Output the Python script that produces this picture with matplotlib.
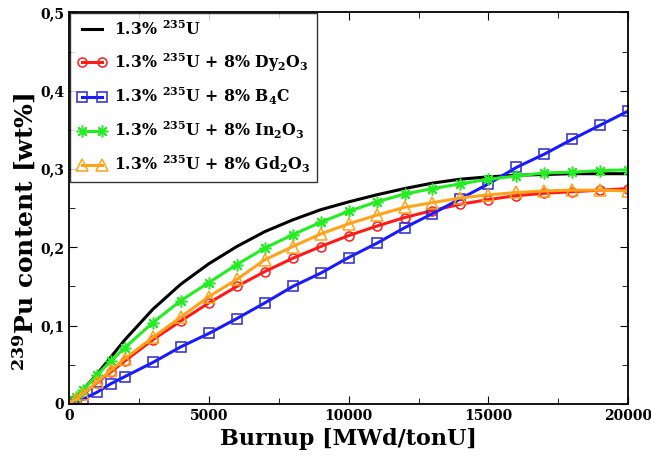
import matplotlib
matplotlib.use("Agg")
import matplotlib.pyplot as plt
from matplotlib.ticker import MultipleLocator, FuncFormatter

plt.rcParams['font.family'] = 'DejaVu Serif'
plt.rcParams['font.weight'] = 'bold'
plt.rcParams['mathtext.fontset'] = 'dejavuserif'
plt.rcParams['mathtext.default'] = 'bf'

# burnup points (MWd/tonU)
burnup = [0, 250, 500, 1000, 1500, 2000, 3000, 4000, 5000, 6000, 7000, 8000, 9000,
          10000, 11000, 12000, 13000, 14000, 15000, 16000, 17000, 18000, 19000, 20000]

# reference fuel, drawn as a plain line
ref_u = [0, 0.009, 0.018, 0.038, 0.060, 0.082, 0.121, 0.153, 0.179, 0.201, 0.220, 0.235,
         0.248, 0.258, 0.267, 0.275, 0.282, 0.287, 0.290, 0.292, 0.293, 0.294, 0.294, 0.294]
dy2o3 = [0, 0.006, 0.012, 0.027, 0.041, 0.055, 0.082, 0.106, 0.129, 0.150, 0.169, 0.186,
         0.201, 0.215, 0.227, 0.238, 0.247, 0.255, 0.261, 0.266, 0.269, 0.271, 0.273, 0.275]
b4c = [0, 0.003, 0.006, 0.015, 0.026, 0.035, 0.053, 0.073, 0.090, 0.109, 0.129, 0.150,
       0.167, 0.187, 0.205, 0.225, 0.243, 0.262, 0.281, 0.302, 0.319, 0.338, 0.356, 0.374]
in2o3 = [0, 0.009, 0.018, 0.037, 0.055, 0.072, 0.104, 0.132, 0.155, 0.178, 0.199, 0.216,
         0.232, 0.246, 0.258, 0.268, 0.275, 0.281, 0.287, 0.291, 0.295, 0.296, 0.298, 0.299]
gd2o3 = [0, 0.006, 0.013, 0.028, 0.043, 0.058, 0.085, 0.111, 0.137, 0.159, 0.184, 0.201,
         0.217, 0.230, 0.241, 0.251, 0.257, 0.263, 0.267, 0.270, 0.272, 0.273, 0.273, 0.272]

labels = [r'1.3% $^{235}$U',
          r'1.3% $^{235}$U + 8% Dy$_2$O$_3$',
          r'1.3% $^{235}$U + 8% B$_4$C',
          r'1.3% $^{235}$U + 8% In$_2$O$_3$',
          r'1.3% $^{235}$U + 8% Gd$_2$O$_3$']

fig = plt.figure(figsize=(6.51, 4.57), dpi=100)
ax = fig.add_axes([0.106, 0.116, 0.859, 0.857])

lw = 2.2
mew = 1.1
ax.plot(burnup, ref_u, color='black', lw=lw, label=labels[0])
ax.plot(burnup, dy2o3, color='#ff1a1a', lw=lw, marker='o', ms=6.5, mfc='none',
        mew=mew, label=labels[1])
ax.plot(burnup, b4c, color='#1a1aff', lw=lw, marker='s', ms=7.5, mfc='none',
        mew=mew, mec='#2a2ad0', label=labels[2])
ax.plot(burnup, in2o3, color='#22ee22', lw=lw, marker=(8, 2, 0), ms=8.5,
        mew=mew, label=labels[3])
ax.plot(burnup, gd2o3, color='#ffa31a', lw=lw, marker='^', ms=8, mfc='none',
        mew=mew, label=labels[4])

ax.set_xlim(0, 20000)
ax.set_ylim(0, 0.5)
ax.xaxis.set_major_locator(MultipleLocator(5000))
ax.xaxis.set_minor_locator(MultipleLocator(2500))
ax.yaxis.set_major_locator(MultipleLocator(0.1))
ax.yaxis.set_minor_locator(MultipleLocator(0.05))
ax.yaxis.set_major_formatter(FuncFormatter(
    lambda v, p: '0' if abs(v) < 1e-9 else f'{v:.1f}'.replace('.', ',')))
ax.tick_params(which='both', direction='in', top=True, right=True, labelsize=10)
ax.tick_params(which='major', length=6)
ax.tick_params(which='minor', length=4)
for s in ax.spines.values():
    s.set_linewidth(1.3)

ax.set_xlabel('Burnup [MWd/tonU]', fontsize=16, fontweight='bold', labelpad=4)
ax.set_ylabel(r'$^{239}$Pu content [wt%]', fontsize=18, fontweight='bold')
ax.yaxis.set_label_coords(-0.054, 0.44)

leg = ax.legend(loc='upper left', numpoints=2, fontsize=11.3, frameon=True, fancybox=False,
                edgecolor='black', borderaxespad=0.05, handlelength=1.9,
                handletextpad=0.45, labelspacing=0.78, borderpad=0.45)
leg.get_frame().set_linewidth(1.0)

fig.savefig('out.png', dpi=100)
